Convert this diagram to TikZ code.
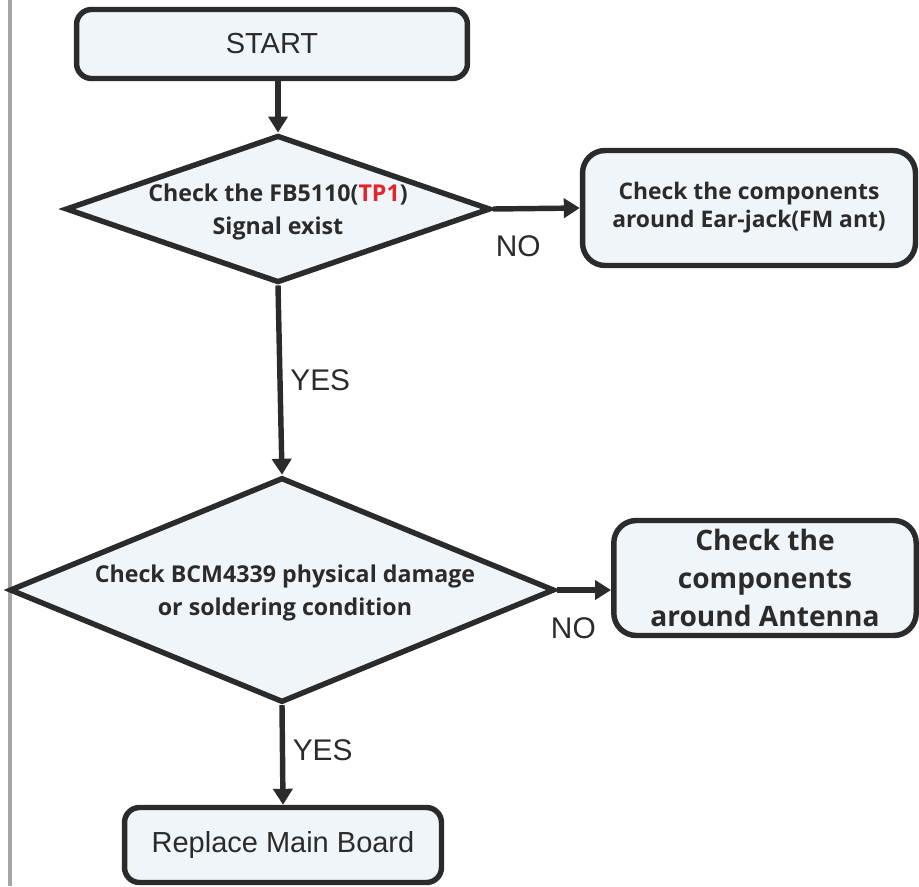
\documentclass[tikz,border=0pt]{standalone}
\usepackage{fontspec}
\setmainfont{Liberation Sans}
\newfontfamily\boxfont{Open Sans}
\usepackage{tikz}
\usetikzlibrary{arrows.meta, positioning, shapes.geometric}
\definecolor{cFill}{HTML}{F0F5FA}
\definecolor{cLine}{HTML}{2B2B2B}
\definecolor{cTP}{HTML}{E3242B}
\definecolor{cSide}{HTML}{A6A6A6}

\begin{document}
\begin{tikzpicture}[x=0.02cm, y=-0.02cm,
  box/.style={draw=cLine, fill=cFill, line width=3.1pt, rounded corners=0.3cm, align=center, inner sep=0pt, text=cLine},
  dia/.style={diamond, draw=cLine, fill=cFill, line width=3.1pt, inner sep=0pt},
  lbl/.style={font=\boxfont\bfseries\fontsize{13.2}{18.5}\selectfont, align=center, text=cLine, yshift=-0.06cm},
  yn/.style={font=\fontsize{17}{19}\selectfont, text=cLine},
  arr/.style={-{Triangle[length=0.32cm, width=0.38cm]}, draw=cLine, line width=3.1pt}
]
\useasboundingbox (0,0) rectangle (919,886);
\draw[cSide, line width=2.2pt] (10,0) -- (10,886);

\node[box, minimum width=7.82cm, minimum height=1.38cm, font=\fontsize{16.5}{18}\selectfont] (start) at (272,44) {START};
\node[dia, minimum width=8.5cm, minimum height=2.95cm,
  label={[lbl]center:{Check the FB5110(\textcolor{cTP}{TP1})\\Signal exist}}] (fb) at (278,209) {};
\node[box, minimum width=6.66cm, minimum height=2.3cm, rounded corners=0.45cm,
  font=\boxfont\bfseries\fontsize{13}{16}\selectfont] (ear) at (749,208) {Check the components\\around Ear-jack(FM ant)};
\node[dia, minimum width=10.9cm, minimum height=4.5cm,
  label={[lbl, xshift=0.06cm]center:{Check BCM4339 physical damage\\or soldering condition}}] (bcm) at (282,590) {};
\node[box, minimum width=6.05cm, minimum height=2.3cm, rounded corners=0.45cm,
  font=\boxfont\bfseries\fontsize{16}{21.5}\selectfont] (ant) at (765,578) {Check the\\components\\around Antenna};
\node[box, minimum width=6.34cm, minimum height=1.5cm, font=\fontsize{16.5}{18}\selectfont] (rmb) at (283,845) {Replace Main Board};

\draw[arr] (start.south -| fb.north) -- (fb.north);
\draw[arr] (fb.east) -- node[yn, pos=0.29, below=0.37cm]{NO} (ear.west);
\draw[arr] (fb.south) -- node[yn, right=1pt, midway]{YES} (bcm.north);
\draw[arr] (bcm.east) -- node[yn, pos=0.3, below=0.39cm]{NO} (bcm.east -| ant.west);
\draw[arr] (bcm.south) -- node[yn, right=1pt, pos=0.45]{YES} (rmb.north);
\end{tikzpicture}
\end{document}
